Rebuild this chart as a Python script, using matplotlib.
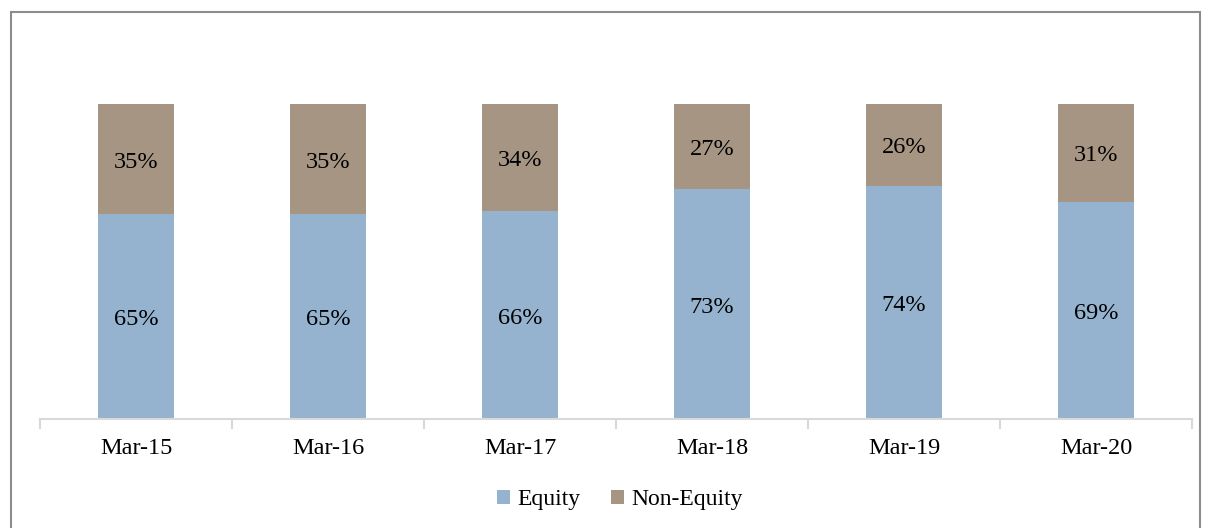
import matplotlib.pyplot as plt
import numpy as np
from matplotlib.transforms import offset_copy

plt.rcParams['font.family'] = ['Liberation Serif', 'DejaVu Serif']

categories = ['Mar-15', 'Mar-16', 'Mar-17', 'Mar-18', 'Mar-19', 'Mar-20']
equity = [65, 65, 66, 73, 74, 69]
non_equity = [35, 35, 34, 27, 26, 31]

eq_color = '#95b3cf'
ne_color = '#a69583'

fig = plt.figure(figsize=(12.09, 5.28), dpi=100)
# outer frame of the chart area
fig.patches.append(plt.Rectangle((11 / 1209, -0.05), 1189 / 1209, 1.05 - 12 / 528,
                                 transform=fig.transFigure, fill=False,
                                 edgecolor='#8c8c8c', linewidth=1.5))

ax = fig.add_axes([40 / 1209, 1 - 419 / 528, 1152 / 1209, 315 / 528])
x = np.arange(len(categories))
ax.bar(x, equity, width=0.4, color=eq_color, label='Equity')
ax.bar(x, non_equity, width=0.4, bottom=equity, color=ne_color, label='Non-Equity')

# labels sit a few pixels below the segment centre, as in the original
lbl_tr = offset_copy(ax.transData, fig=fig, x=0, y=-3, units='dots')
for i in range(len(categories)):
    ax.text(x[i], equity[i] / 2, f'{equity[i]}%', ha='center', va='center',
            fontsize=17.5, transform=lbl_tr)
    ax.text(x[i], equity[i] + non_equity[i] / 2, f'{non_equity[i]}%',
            ha='center', va='center', fontsize=17.5, transform=lbl_tr)

ax.set_xlim(-0.5, len(categories) - 0.5)
ax.set_ylim(0, 100)
ax.set_yticks([])
for s in ['top', 'left', 'right']:
    ax.spines[s].set_visible(False)
ax.spines['bottom'].set_color('#d9d9d9')
ax.spines['bottom'].set_linewidth(1.5)
ax.set_xticks(x)
ax.set_xticklabels(categories, fontsize=17.5)
ax.tick_params(axis='x', which='major', length=0, pad=14)
ax.set_xticks(np.arange(-0.5, len(categories)), minor=True)
ax.tick_params(axis='x', which='minor', length=7, width=1.5, color='#d9d9d9')

fig.legend(loc='center', bbox_to_anchor=(0.513, 1 - 500 / 528), ncol=2, frameon=False,
           fontsize=17, handlelength=0.55, handleheight=0.55, handletextpad=0.3,
           columnspacing=1.3)

fig.savefig('out.png', dpi=100)
